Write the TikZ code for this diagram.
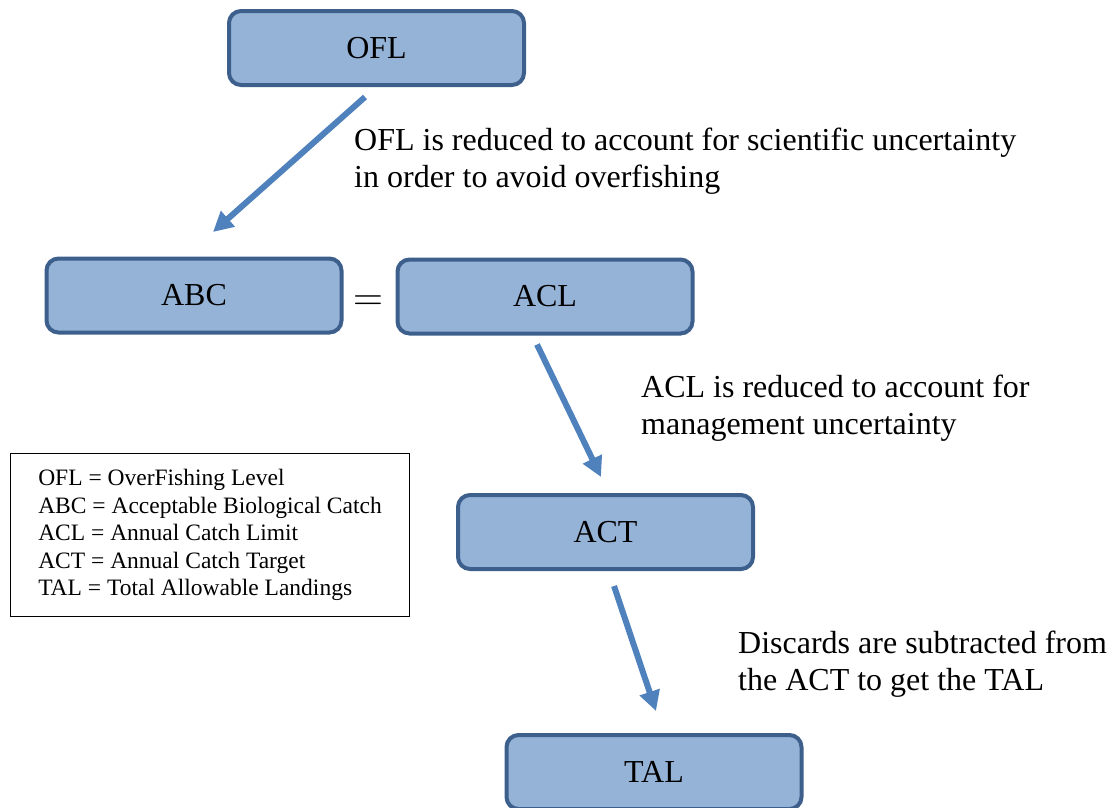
\documentclass[tikz,border=0pt]{standalone}
\usepackage{fontspec}
\setmainfont{Liberation Serif}
\usetikzlibrary{arrows.meta}
\definecolor{boxfill}{HTML}{95B3D7}
\definecolor{boxborder}{HTML}{3D5F8B}
\definecolor{arrowblue}{HTML}{4F81BD}
\tikzset{
  stagebox/.style={draw=boxborder, line width=4pt, fill=boxfill, rounded corners=12pt,
    minimum width=295pt, minimum height=74pt, inner sep=0pt,
    font=\fontsize{32}{37}\selectfont},
  note/.style={anchor=north west, inner sep=0pt, align=left,
    font=\fontsize{32}{37}\selectfont},
  flowarrow/.style={draw=arrowblue, line width=6pt,
    -{Triangle[width=20pt,length=20pt]}},
  legendbox/.style={draw=black, line width=1.3pt, minimum width=398.7pt, minimum height=162.7pt,
    align=left, inner sep=0pt, font=\fontsize{23.5}{27.5}\selectfont}
}
\begin{document}
\begin{tikzpicture}[x=1pt,y=-1pt]
\useasboundingbox (0,0) rectangle (1110,807);
\begin{scope}
\clip (0,0) rectangle (1110,807);
\node[stagebox] (OFL) at (376.5,48) {OFL};
\node[stagebox] (ABC) at (194,295.5) {ABC};
\node[stagebox] (ACL) at (545,296.5) {ACL};
\node[stagebox] (ACT) at (605.5,532) {ACT};
\node[stagebox] (TAL) at (654,772) {TAL};
\end{scope}
\node[inner sep=0pt, scale=2, font=\fontsize{21}{21}\selectfont] (eq) at (368,303.5) {$=$};
\node[note] (n1) at (354,128) {OFL is reduced to account for scientific uncertainty\\in order to avoid overfishing};
\node[note] (n2) at (641,375) {ACL is reduced to account for\\management uncertainty};
\node[note] (n3) at (738,631) {Discards are subtracted from\\the ACT to get the TAL};
\node[legendbox] (legend) at (210,535) {OFL = OverFishing Level\\ABC = Acceptable Biological Catch\\ACL = Annual Catch Limit\\ACT = Annual Catch Target\\TAL = Total Allowable Landings};
\draw[flowarrow] ([xshift=-11.5pt,yshift=-10pt]OFL.south) -- ([xshift=19pt,yshift=24.5pt]ABC.north);
\draw[flowarrow] ([xshift=-8pt,yshift=-9pt]ACL.south) -- ([xshift=-4.5pt,yshift=16pt]ACT.north);
\draw[flowarrow] ([xshift=8.5pt,yshift=-15pt]ACT.south) -- ([xshift=2pt,yshift=22pt]TAL.north);
\end{tikzpicture}
\end{document}
